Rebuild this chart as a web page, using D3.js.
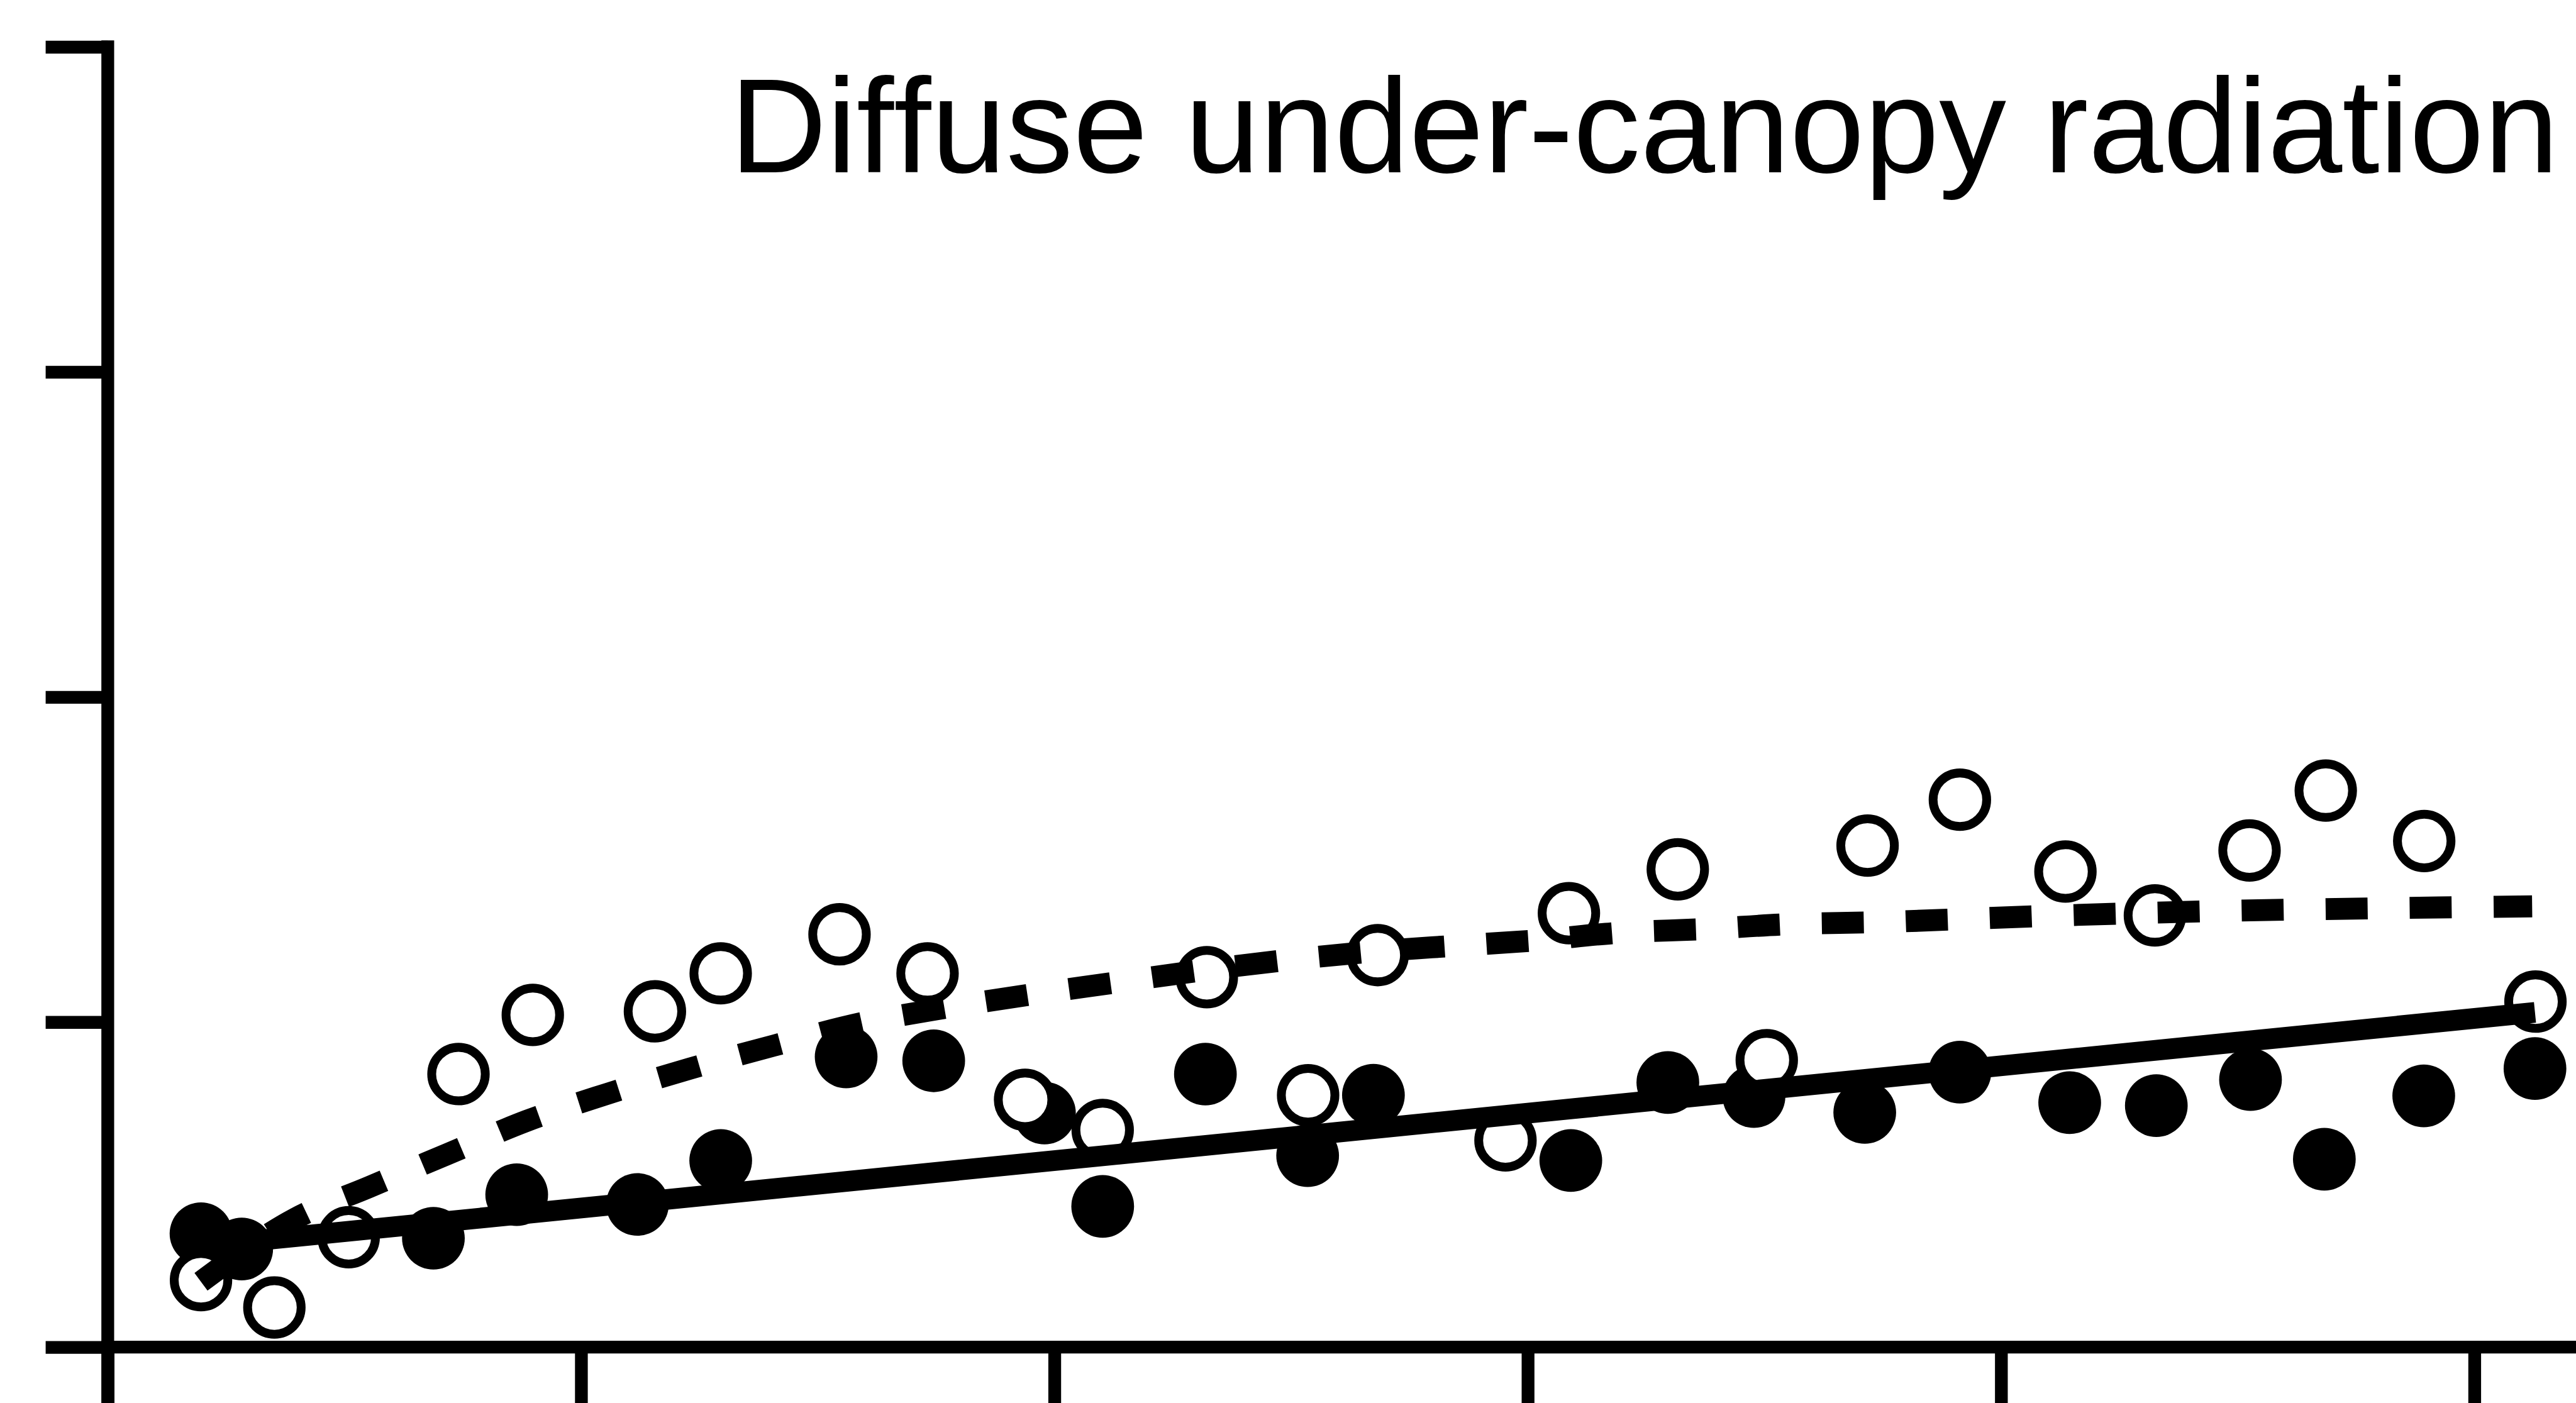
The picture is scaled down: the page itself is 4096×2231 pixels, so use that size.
<!DOCTYPE html>
<html>
<head>
<meta charset="utf-8">
<script src="https://cdn.jsdelivr.net/npm/d3@7"></script>
<style>
  html, body { margin: 0; padding: 0; background: #fff; }
  svg { display: block; }
</style>
</head>
<body>
<script>
// ---- data ----
const titleText = "Diffuse under-canopy radiation";
const xTicks = [0, 10, 20, 30, 40, 50];
const yTicks = [0, 1, 2, 3, 4];

const filledX = [1.97, 2.83, 6.88, 8.64, 11.19, 12.95, 15.60, 17.45, 19.79, 21.02, 23.19, 25.35, 26.74, 30.91, 32.96, 34.78, 37.12, 39.13, 41.45, 43.28, 45.27, 46.83, 48.93, 51.28];
const filledY = [0.349, 0.302, 0.335, 0.469, 0.439, 0.574, 0.893, 0.881, 0.720, 0.433, 0.840, 0.589, 0.775, 0.574, 0.814, 0.771, 0.722, 0.846, 0.752, 0.743, 0.823, 0.578, 0.773, 0.857];

const openX = [1.97, 3.52, 5.09, 7.41, 8.98, 11.56, 12.95, 15.46, 17.32, 19.38, 21.02, 23.22, 25.36, 26.83, 29.53, 30.87, 33.17, 35.05, 37.18, 39.13, 41.36, 43.25, 45.25, 46.86, 48.94, 51.29];
const openY = [0.206, 0.122, 0.338, 0.840, 1.022, 1.033, 1.150, 1.270, 1.150, 0.761, 0.668, 1.138, 0.775, 1.206, 0.636, 1.335, 1.470, 0.883, 1.543, 1.684, 1.463, 1.328, 1.528, 1.712, 1.557, 1.063];

const solidFitX = [1.97, 51.28];
const solidFitY = [0.311, 1.030];

const dashFitX = [1.97, 3.94, 5.53, 7.18, 8.85, 10.57, 12.30, 14.08, 15.90, 17.66, 19.46, 21.22, 23.02, 24.80, 26.59, 28.39, 30.15, 31.95, 33.72, 35.49, 37.29, 40.84, 44.41, 47.97, 51.22];
const dashFitY = [0.201, 0.394, 0.493, 0.594, 0.696, 0.780, 0.857, 0.928, 0.996, 1.043, 1.084, 1.120, 1.157, 1.189, 1.215, 1.234, 1.251, 1.275, 1.286, 1.301, 1.307, 1.326, 1.341, 1.350, 1.356];

// ---- layout (reference pixel units, scaled by S) ----
const S = 0.968;
const REF_W = 4229, REF_H = 2303;
const W = 4096, H = 2231;

const x = d3.scaleLinear().domain([0, 50]).range([177, 4064.5]);
const y = d3.scaleLinear().domain([0, 4]).range([2213, 77]);

const svg = d3.select("body").append("svg")
  .attr("width", W).attr("height", H)
  .attr("viewBox", `0 0 ${W} ${H}`);
svg.append("rect").attr("width", W).attr("height", H).attr("fill", "#fff");

const g = svg.append("g").attr("transform", `scale(${S})`);

const AX_W = 21;

// y axis
const yAxis = d3.axisLeft(y).tickValues(yTicks).tickSize(102).tickSizeOuter(0).tickFormat("");
const gy = g.append("g").attr("transform", `translate(${x(0)},0)`).call(yAxis);
gy.select(".domain").remove();
gy.selectAll(".tick line").attr("stroke", "#000").attr("stroke-width", AX_W).attr("stroke-linecap", "butt");
g.append("line")
  .attr("x1", x(0)).attr("x2", x(0))
  .attr("y1", y(yTicks[yTicks.length - 1]) - AX_W / 2).attr("y2", REF_H + 10)
  .attr("stroke", "#000").attr("stroke-width", AX_W);

// x axis
const xAxis = d3.axisBottom(x).tickValues(xTicks).tickSize(110).tickSizeOuter(0).tickFormat("");
const gx = g.append("g").attr("transform", `translate(0,${y(0)})`).call(xAxis);
gx.select(".domain").remove();
gx.selectAll(".tick line").attr("stroke", "#000").attr("stroke-width", AX_W).attr("stroke-linecap", "butt");
g.append("line")
  .attr("x1", x(0) - AX_W / 2).attr("x2", REF_W + 10)
  .attr("y1", y(0)).attr("y2", y(0))
  .attr("stroke", "#000").attr("stroke-width", AX_W);

// filled points
const filled = filledX.map((v, i) => ({ x: v, y: filledY[i] }));
g.append("g").selectAll("circle").data(filled).join("circle")
  .attr("cx", d => x(d.x)).attr("cy", d => y(d.y))
  .attr("r", 51.5).attr("fill", "#000");

// open points
const open = openX.map((v, i) => ({ x: v, y: openY[i] }));
g.append("g").selectAll("circle").data(open).join("circle")
  .attr("cx", d => x(d.x)).attr("cy", d => y(d.y))
  .attr("r", 44).attr("fill", "#fff").attr("stroke", "#000").attr("stroke-width", 14.5);

// solid regression line
const solid = solidFitX.map((v, i) => ({ x: v, y: solidFitY[i] }));
g.append("path").datum(solid)
  .attr("d", d3.line().x(d => x(d.x)).y(d => y(d.y)))
  .attr("fill", "none").attr("stroke", "#000").attr("stroke-width", 34).attr("stroke-linecap", "butt");

// dashed fitted curve
const dashed = dashFitX.map((v, i) => ({ x: v, y: dashFitY[i] }));
g.append("path").datum(dashed)
  .attr("d", d3.line().x(d => x(d.x)).y(d => y(d.y)).curve(d3.curveMonotoneX))
  .attr("fill", "none").attr("stroke", "#000").attr("stroke-width", 36)
  .attr("stroke-dasharray", "69,69").attr("stroke-linecap", "butt");

// title
g.append("text")
  .attr("x", 4203).attr("y", 283)
  .attr("text-anchor", "end")
  .attr("font-family", "'Liberation Sans', Arial, sans-serif")
  .attr("font-size", 220.6)
  .style("font-variant-ligatures", "none")
  .style("font-kerning", "none")
  .attr("fill", "#000")
  .text(titleText);
</script>
</body>
</html>
